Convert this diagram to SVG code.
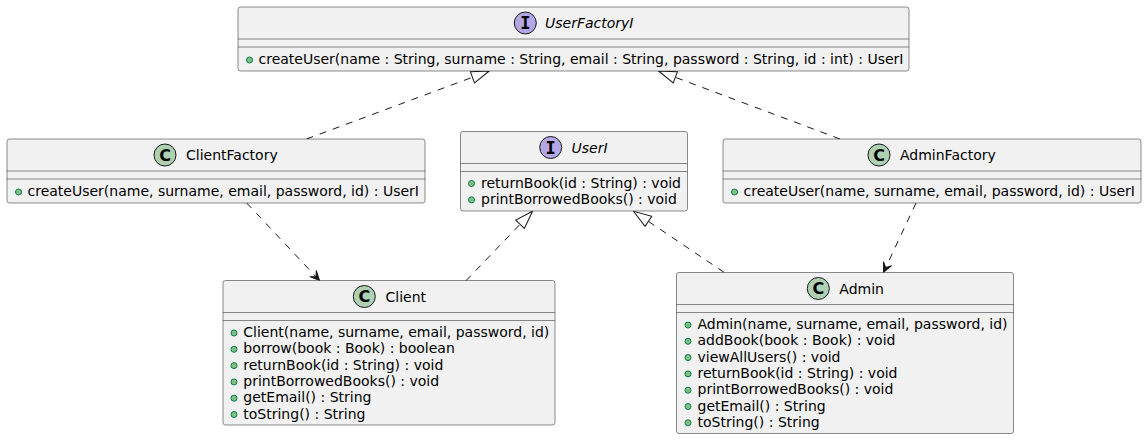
<svg xmlns="http://www.w3.org/2000/svg" width="1147" height="440" viewBox="0 0 1147 440">
<style>
.box{fill:#F1F1F1;stroke:#181818;stroke-width:0.5}
.div{stroke:#181818;stroke-width:0.5}
.cc{fill:#ADD1B2;stroke:#181818;stroke-width:1}
.ic{fill:#B4A7E5;stroke:#181818;stroke-width:1}
.cl{font-family:"DejaVu Sans",sans-serif;font-weight:bold;font-size:16px;fill:#000;text-anchor:middle}
.il{font-family:"DejaVu Sans Mono",monospace;font-weight:bold;font-size:17px;fill:#000;text-anchor:middle}
.nm{font-family:"DejaVu Sans",sans-serif;font-size:14px;fill:#000}
.it{font-style:italic}
.mt{font-family:"DejaVu Sans",sans-serif;font-size:14px;fill:#000}
.dot{fill:#84BE84;stroke:#038048;stroke-width:1}
.ln{fill:none;stroke:#181818;stroke-width:1;stroke-dasharray:7,7}
.real{marker-end:url(#tri)}
.dep{marker-end:url(#arr)}
</style>
<defs>
<marker id="tri" markerUnits="userSpaceOnUse" orient="auto" refX="0" refY="0" markerWidth="1" markerHeight="1" overflow="visible">
<polygon points="0,0 -18,-6 -18,6" fill="#FFFFFF" stroke="#181818" stroke-width="1"/>
</marker>
<marker id="arr" markerUnits="userSpaceOnUse" orient="auto" refX="0" refY="0" markerWidth="1" markerHeight="1" overflow="visible">
<polygon points="0,0 -9.5,-4.5 -5,0 -9.5,4.5" fill="#181818" stroke="#181818" stroke-width="1"/>
</marker>
</defs>
<rect width="1147" height="440" fill="#FFFFFF"/>
<g id="connectors">
<path class="ln real" d="M306.5,139 L489.3,71"/>
<path class="ln real" d="M840,139 L658.5,71"/>
<path class="ln real" d="M466,280.7 L532.5,211.3"/>
<path class="ln real" d="M724,272.3 L633.5,211.3"/>
<path class="ln dep" d="M246.7,203 L319.5,280.5"/>
<path class="ln dep" d="M916,203 L883.5,272.3"/>
</g>
<g id="UserFactoryI">
<rect class="box" x="238" y="7" width="671" height="64" rx="2.5"/>
<circle class="ic" cx="525.3" cy="23" r="11"/>
<text class="il" x="525.3" y="29">I</text>
<text class="nm it" x="545" y="28">UserFactoryI</text>
<line class="div" x1="238" y1="39" x2="909" y2="39"/>
<line class="div" x1="238" y1="47" x2="909" y2="47"/>
<circle class="dot" cx="249.5" cy="60" r="3"/>
<text class="mt" x="258.5" y="64">createUser(name : String, surname : String, email : String, password : String, id : int) : UserI</text>
</g>
<g id="ClientFactory">
<rect class="box" x="7" y="139" width="418" height="64" rx="2.5"/>
<circle class="cc" cx="165" cy="155" r="11"/>
<text class="cl" x="165" y="160.5">C</text>
<text class="nm" x="186" y="160">ClientFactory</text>
<line class="div" x1="7" y1="171" x2="425" y2="171"/>
<line class="div" x1="7" y1="179" x2="425" y2="179"/>
<circle class="dot" cx="18.5" cy="192" r="3"/>
<text class="mt" x="27.5" y="196">createUser(name, surname, email, password, id) : UserI</text>
</g>
<g id="AdminFactory">
<rect class="box" x="723" y="139" width="418" height="64" rx="2.5"/>
<circle class="cc" cx="879" cy="155" r="11"/>
<text class="cl" x="879" y="160.5">C</text>
<text class="nm" x="900" y="160">AdminFactory</text>
<line class="div" x1="723" y1="171" x2="1141" y2="171"/>
<line class="div" x1="723" y1="179" x2="1141" y2="179"/>
<circle class="dot" cx="734.5" cy="192" r="3"/>
<text class="mt" x="743.5" y="196">createUser(name, surname, email, password, id) : UserI</text>
</g>
<g id="UserI">
<rect class="box" x="460.5" y="131.5" width="227" height="79.5" rx="2.5"/>
<circle class="ic" cx="550.7" cy="147.5" r="11"/>
<text class="il" x="550.7" y="153.5">I</text>
<text class="nm it" x="571.5" y="152.5">UserI</text>
<line class="div" x1="460.5" y1="163.5" x2="687.5" y2="163.5"/>
<line class="div" x1="460.5" y1="171.5" x2="687.5" y2="171.5"/>
<circle class="dot" cx="471.5" cy="183.5" r="3"/>
<text class="mt" x="481" y="187.5">returnBook(id : String) : void</text>
<circle class="dot" cx="471.5" cy="199.8" r="3"/>
<text class="mt" x="481" y="203.8">printBorrowedBooks() : void</text>
</g>
<g id="Client">
<rect class="box" x="223" y="280.5" width="332" height="144.5" rx="2.5"/>
<circle class="cc" cx="364.3" cy="296.5" r="11"/>
<text class="cl" x="364.3" y="302">C</text>
<text class="nm" x="385.5" y="301.5">Client</text>
<line class="div" x1="223" y1="312.5" x2="555" y2="312.5"/>
<line class="div" x1="223" y1="320.5" x2="555" y2="320.5"/>
<circle class="dot" cx="234" cy="333" r="3"/>
<text class="mt" x="243.3" y="337">Client(name, surname, email, password, id)</text>
<circle class="dot" cx="234" cy="349.3" r="3"/>
<text class="mt" x="243.3" y="353.3">borrow(book : Book) : boolean</text>
<circle class="dot" cx="234" cy="365.6" r="3"/>
<text class="mt" x="243.3" y="369.6">returnBook(id : String) : void</text>
<circle class="dot" cx="234" cy="381.9" r="3"/>
<text class="mt" x="243.3" y="385.9">printBorrowedBooks() : void</text>
<circle class="dot" cx="234" cy="398.2" r="3"/>
<text class="mt" x="243.3" y="402.2">getEmail() : String</text>
<circle class="dot" cx="234" cy="414.5" r="3"/>
<text class="mt" x="243.3" y="418.5">toString() : String</text>
</g>
<g id="Admin">
<rect class="box" x="676.5" y="272.5" width="337" height="161" rx="2.5"/>
<circle class="cc" cx="818.3" cy="288.5" r="11"/>
<text class="cl" x="818.3" y="294">C</text>
<text class="nm" x="839.3" y="293.5">Admin</text>
<line class="div" x1="676.5" y1="304.5" x2="1013.5" y2="304.5"/>
<line class="div" x1="676.5" y1="312.5" x2="1013.5" y2="312.5"/>
<circle class="dot" cx="688" cy="325" r="3"/>
<text class="mt" x="697.5" y="329">Admin(name, surname, email, password, id)</text>
<circle class="dot" cx="688" cy="341.3" r="3"/>
<text class="mt" x="697.5" y="345.3">addBook(book : Book) : void</text>
<circle class="dot" cx="688" cy="357.6" r="3"/>
<text class="mt" x="697.5" y="361.6">viewAllUsers() : void</text>
<circle class="dot" cx="688" cy="373.9" r="3"/>
<text class="mt" x="697.5" y="377.9">returnBook(id : String) : void</text>
<circle class="dot" cx="688" cy="390.2" r="3"/>
<text class="mt" x="697.5" y="394.2">printBorrowedBooks() : void</text>
<circle class="dot" cx="688" cy="406.5" r="3"/>
<text class="mt" x="697.5" y="410.5">getEmail() : String</text>
<circle class="dot" cx="688" cy="422.8" r="3"/>
<text class="mt" x="697.5" y="426.8">toString() : String</text>
</g>
</svg>
